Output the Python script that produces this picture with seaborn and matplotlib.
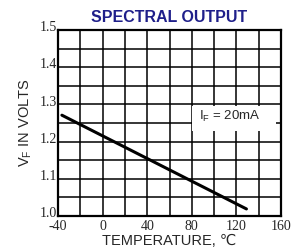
import matplotlib
matplotlib.use("Agg")
import matplotlib.pyplot as plt
import seaborn as sns
import pandas as pd
from matplotlib.patches import Rectangle

temperature = [-36.5, 129]
vf_volts = [1.271, 1.019]
x_ticks = [-40, 0, 40, 80, 120, 160]
y_ticks = [1.0, 1.1, 1.2, 1.3, 1.4, 1.5]
x_tick_labels = ["-40", "0", "40", "80", "120", "160"]
y_tick_labels = ["1.0", "1.1", "1.2", "1.3", "1.4", "1.5"]

sns.set_style("white")
fig = plt.figure(figsize=(2.92, 2.49), dpi=100)
ax = fig.add_axes([58/292, 1-216/249, (281-58)/292, (216-30)/249])

df = pd.DataFrame({"T": temperature, "V": vf_volts})
sns.lineplot(data=df, x="T", y="V", ax=ax, color="black", lw=2.2, zorder=5)

ax.set_xlim(-40, 160)
ax.set_ylim(1.0, 1.5)
ax.set_xticks(range(-40, 161, 20))
ax.set_yticks([1.0 + 0.05*i for i in range(11)])
ax.grid(True, color="black", lw=1.1)
ax.set_axisbelow(True)
ax.set_xticklabels([""]*11)
ax.set_yticklabels([""]*11)
ax.tick_params(which="both", length=0)
for x, lab in zip(x_ticks, x_tick_labels):
    ax.text(x, 0.989, lab, ha="center", va="top", fontsize=10,
            family="Liberation Serif", transform=ax.transData)
for y, lab in zip(y_ticks, y_tick_labels):
    ax.text(-41, y + 0.006, lab, ha="right", va="center", fontsize=10,
            family="Liberation Serif", transform=ax.transData)

for s in ax.spines.values():
    s.set_linewidth(1.6)
    s.set_color("black")
    s.set_visible(True)
    s.set_zorder(6)

ax.set_xlabel("TEMPERATURE, \u2103", family=["Liberation Sans", "DejaVu Sans"], fontsize=10.5)
ax.xaxis.set_label_coords(0.5, -0.095)
ax.xaxis.label.set_va("top")
ax.set_ylabel("V$_\\mathregular{F}$ IN VOLTS", family="Liberation Sans", fontsize=10.5, labelpad=14)
ax.set_title("SPECTRAL OUTPUT", family="Liberation Sans", fontsize=11.5, fontweight="bold",
             color="#1f1f8a", pad=6, x=0.5)
ax.add_patch(Rectangle((80.5, 1.229), 75, 0.066, facecolor="white", edgecolor="none", zorder=3))
ax.text(114, 1.268, "I$_\\mathregular{F}$ = 20mA", ha="center", va="center",
        fontsize=9.5, family="Liberation Sans", zorder=4)

fig.savefig("out.png", dpi=100)
